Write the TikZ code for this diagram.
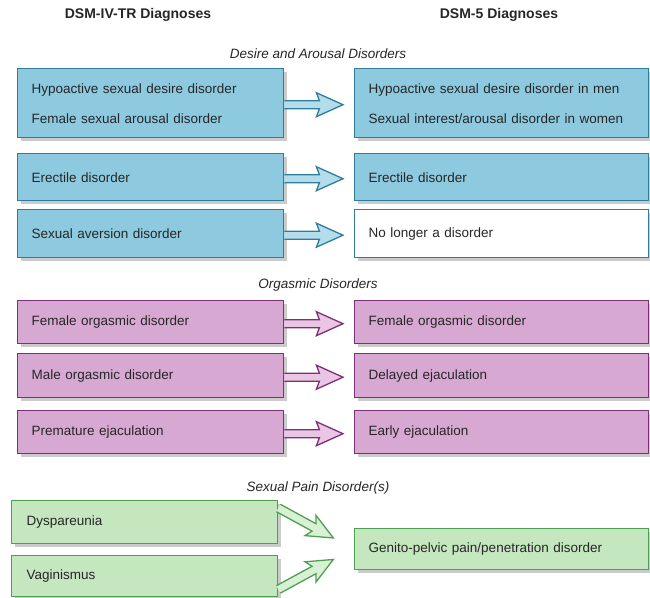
\documentclass[tikz,border=0pt]{standalone}
\usepackage{fontspec}
\setmainfont{Liberation Sans}
\usetikzlibrary{calc,shadows}

\definecolor{blueFill}{HTML}{8DCAE0}
\definecolor{blueLine}{HTML}{2E7D9A}
\definecolor{blueArrow}{HTML}{B3DDEB}
\definecolor{purpleFill}{HTML}{D7A9D2}
\definecolor{purpleLine}{HTML}{7D2F78}
\definecolor{purpleArrow}{HTML}{E8C6E4}
\definecolor{greenFill}{HTML}{C5E7BF}
\definecolor{greenLine}{HTML}{4F9F52}
\definecolor{greenArrow}{HTML}{D8F0D3}
\definecolor{txt}{HTML}{262626}

\tikzset{
  diag/.style={rectangle, anchor=north west, line width=1.4pt, align=left,
    inner xsep=14pt, inner ysep=2pt, text=txt,
    font=\fontsize{13.5}{16}\selectfont,
    drop shadow={shadow xshift=3pt, shadow yshift=-3pt, fill=black!45, opacity=0.45}},
  leftbox/.style={diag, text width=238pt, minimum width=266pt},
  rightbox/.style={diag, text width=266pt, minimum width=294pt},
  bluebox/.style={draw=blueLine, fill=blueFill},
  whitebox/.style={draw=blueLine, fill=white},
  purplebox/.style={draw=purpleLine, fill=purpleFill},
  greenbox/.style={draw=greenLine, fill=greenFill},
  blueflow/.style={draw=blueLine, fill=blueArrow, line width=1.3pt, line join=miter},
  purpleflow/.style={draw=purpleLine, fill=purpleArrow, line width=1.3pt, line join=miter},
  greenflow/.style={draw=greenLine, fill=greenArrow, line width=1.3pt, line join=miter},
  header/.style={font=\bfseries\fontsize{14}{16}\selectfont, text=txt},
  section/.style={font=\itshape\fontsize{13.5}{16}\selectfont, text=txt}
}

% hollow block arrow from the east side of one box towards the west side of another
\newcommand{\flowarrow}[3]{%
  \filldraw[#1] ($(#2.east)+(0,-2.5)$) -- ++(35,0) -- ++(-3,-8)
    -- ($(#3.west)+(-11,1.5)$)
    -- ($(#2.east)+(32,13.5)$) -- ++(3,-8) -- ($(#2.east)+(0,5.5)$);}

% slanted hollow block arrow leaving a named coordinate (local frame along x)
\newcommand{\slantarrow}[4]{% style, start, angle, length
  \begin{scope}[shift={(#2)}, rotate=#3]
    \filldraw[#1] (0,-4.2) -- (#4-22,-4.2) -- (#4-26,-11.5) -- (#4,0)
      -- (#4-26,11.5) -- (#4-22,4.2) -- (0,4.2);
  \end{scope}}

\begin{document}
\begin{tikzpicture}[x=1pt,y=-1pt]
\useasboundingbox (0,0) rectangle (650,597);

% column headers
\node[header] (hleft) at (138,15) {DSM-IV-TR Diagnoses};
\node[header] (hright) at (499,15) {DSM-5 Diagnoses};

% desire and arousal disorders
\node[section] (sdesire) at (318,54) {Desire and Arousal Disorders};
\node[leftbox, bluebox, minimum height=69pt] (da1) at (17,68)
  {Hypoactive sexual desire disorder\\[14pt]Female sexual arousal disorder};
\node[rightbox, bluebox, minimum height=69pt] (db1) at (354,68)
  {Hypoactive sexual desire disorder in men\\[14pt]Sexual interest/arousal disorder in women};
\node[leftbox, bluebox, minimum height=47pt] (da2) at (17,153) {Erectile disorder};
\node[rightbox, bluebox, minimum height=47pt] (db2) at (354,153) {Erectile disorder};
\node[leftbox, bluebox, minimum height=48pt] (da3) at (17,209) {Sexual aversion disorder};
\node[rightbox, whitebox, minimum height=48pt] (db3) at (354,209) {No longer a disorder};
\flowarrow{blueflow}{da1}{db1}
\flowarrow{blueflow}{da2}{db2}
\flowarrow{blueflow}{da3}{db3}

% orgasmic disorders
\node[section] (sorg) at (318,285) {Orgasmic Disorders};
\node[leftbox, purplebox, minimum height=43pt] (oa1) at (17,300) {Female orgasmic disorder};
\node[rightbox, purplebox, minimum height=43pt] (ob1) at (354,300) {Female orgasmic disorder};
\node[leftbox, purplebox, minimum height=44pt] (oa2) at (17,353) {Male orgasmic disorder};
\node[rightbox, purplebox, minimum height=44pt] (ob2) at (354,353) {Delayed ejaculation};
\node[leftbox, purplebox, minimum height=43pt] (oa3) at (17,410) {Premature ejaculation};
\node[rightbox, purplebox, minimum height=43pt] (ob3) at (354,410) {Early ejaculation};
\flowarrow{purpleflow}{oa1}{ob1}
\flowarrow{purpleflow}{oa2}{ob2}
\flowarrow{purpleflow}{oa3}{ob3}

% sexual pain disorders
\node[section] (spain) at (318,488) {Sexual Pain Disorder(s)};
\node[leftbox, greenbox, minimum height=43pt, inner xsep=15pt, text width=236pt] (pa1) at (11,500) {Dyspareunia};
\node[leftbox, greenbox, minimum height=41pt, inner xsep=15pt, text width=236pt] (pa2) at (11,555) {Vaginismus};
\node[rightbox, greenbox, minimum height=41pt] (pb1) at (354,528) {Genito-pelvic pain/penetration disorder};
\coordinate (pa1out) at ($(pa1.north east)+(0,8)$);
\coordinate (pa2out) at ($(pa2.south east)+(0,-8)$);
\slantarrow{greenflow}{pa1out}{-28.6}{62.6}
\slantarrow{greenflow}{pa2out}{28.6}{62.6}
\end{tikzpicture}
\end{document}
